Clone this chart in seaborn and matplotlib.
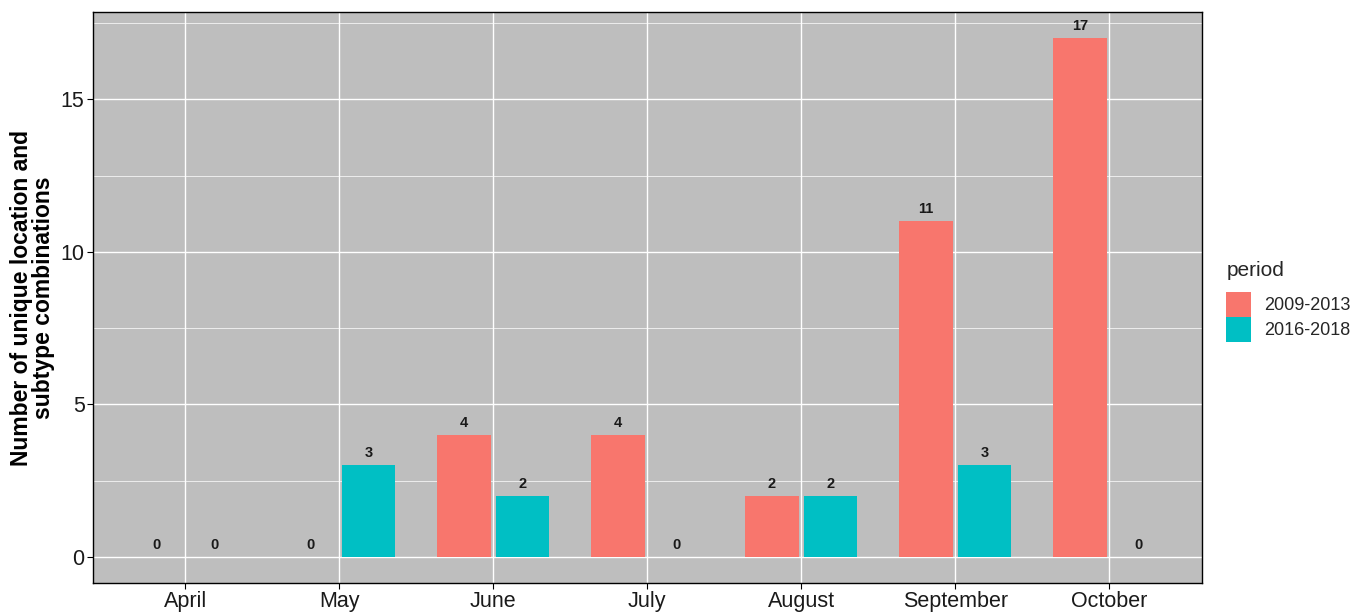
import pandas as pd
import numpy as np
import matplotlib
matplotlib.use('Agg')
import matplotlib.pyplot as plt
import matplotlib.patches as mpatches
from matplotlib.ticker import MultipleLocator
import seaborn as sns

months = ['April', 'May', 'June', 'July', 'August', 'September', 'October']
periods = ['2009-2013', '2016-2018']
counts_0913 = [0, 0, 4, 4, 2, 11, 17]
counts_1618 = [0, 3, 2, 0, 2, 3, 0]
colors = ['#F8766D', '#00BFC4']

data = pd.DataFrame({
    'month': months * 2,
    'period': [periods[0]] * len(months) + [periods[1]] * len(months),
    'n': counts_0913 + counts_1618,
})

sns.set_style('darkgrid', {'axes.facecolor': '#BEBEBE', 'grid.color': 'white'})
plt.rcParams['font.family'] = ['Liberation Sans', 'DejaVu Sans']

fig = plt.figure(figsize=(13.67, 6.13), dpi=100)
ax = fig.add_axes([0.068, 0.049, 0.811, 0.931])

sns.barplot(data=data, x='month', y='n', hue='period', order=months,
            hue_order=periods, palette=colors, width=0.76, gap=0.08,
            saturation=1, ax=ax, legend=False, zorder=3, linewidth=0,
            edgecolor='none')

# value labels
for i, p in enumerate(periods):
    vals = counts_0913 if i == 0 else counts_1618
    off = -0.19 if i == 0 else 0.19
    for j, v in enumerate(vals):
        ax.text(j + off, v + 0.17, str(v), ha='center', va='bottom',
                fontsize=10.5, fontweight='bold', color='#1a1a1a', zorder=4)

ax.set_xlim(-0.6, 6.6)
ax.set_ylim(-0.85, 17.85)
ax.yaxis.set_major_locator(MultipleLocator(5))
ax.yaxis.set_minor_locator(MultipleLocator(2.5))
ax.grid(which='major', color='white', linewidth=1.0, zorder=0)
ax.grid(which='minor', axis='y', color='white', linewidth=0.5, zorder=0)
ax.set_axisbelow(True)
for s in ax.spines.values():
    s.set_visible(True)
    s.set_color('black')
    s.set_linewidth(1.0)
ax.tick_params(which='major', length=4, width=0.8, color='black',
               labelsize=15.5, labelcolor='#1a1a1a', direction='out',
               bottom=True, left=True, pad=2)
ax.tick_params(which='minor', length=0)
ax.set_xlabel('')
ax.set_ylabel('Number of unique location and\nsubtype combinations',
              fontsize=16.5, fontweight='bold', color='black', labelpad=4,
              linespacing=0.95)

handles = [mpatches.Patch(facecolor=c, edgecolor='none') for c in colors]
leg = fig.legend(handles, periods, title='period', loc='upper left',
                 bbox_to_anchor=(0.897, 0.575), frameon=False,
                 fontsize=13, title_fontsize=15, handlelength=1.35,
                 handleheight=1.75, handletextpad=0.75, labelspacing=0.0,
                 borderaxespad=0, borderpad=0)
leg._legend_box.align = 'left'
leg._legend_box.sep = 9

fig.savefig('out.png', dpi=100)
